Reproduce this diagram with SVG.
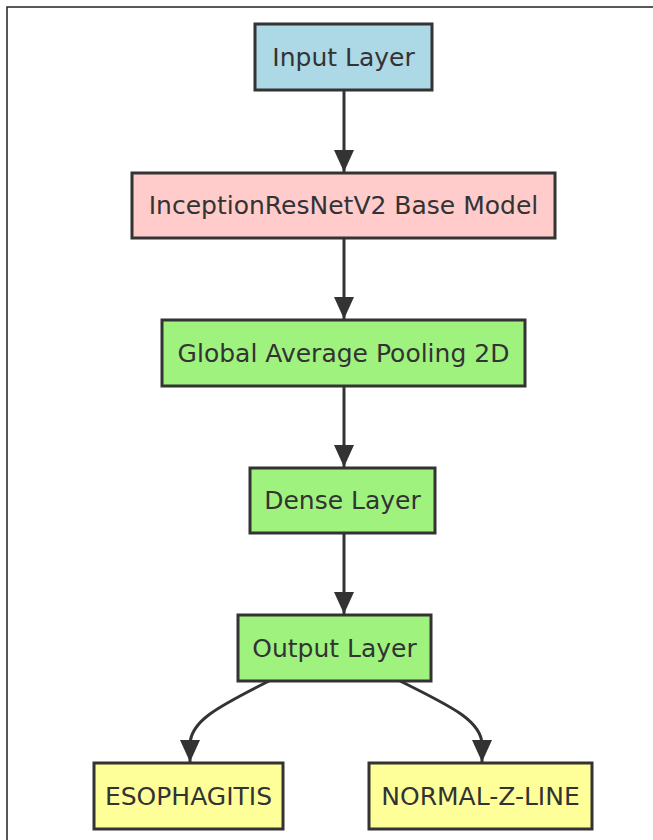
<svg xmlns="http://www.w3.org/2000/svg" width="653" height="840" viewBox="0 0 653 840">
<defs>
<style>
.n rect{stroke:#333;stroke-width:3}
.n text{font-family:"DejaVu Sans",Verdana,sans-serif;font-size:25px;fill:#333;text-anchor:middle;dominant-baseline:central}
.e{fill:none;stroke:#333;stroke-width:3}
</style>
<marker id="ah" viewBox="0 0 22 20" refX="22" refY="10" markerWidth="22" markerHeight="20" markerUnits="userSpaceOnUse" orient="auto">
<path d="M0,0 L22,10 L0,20 Z" fill="#333"/>
</marker>
</defs>
<rect x="0" y="0" width="653" height="840" fill="#fff"/>
<rect x="7" y="7" width="660" height="850" fill="none" stroke="#222" stroke-width="1.5"/>
<g id="connectors">
<path class="e" d="M344,90 L344,172" marker-end="url(#ah)"/>
<path class="e" d="M344,238 L344,319" marker-end="url(#ah)"/>
<path class="e" d="M344,386 L344,467" marker-end="url(#ah)"/>
<path class="e" d="M344,533 L344,614" marker-end="url(#ah)"/>
<path class="e" d="M269,681 C215,708 190,722 190,745 L190,762" marker-end="url(#ah)"/>
<path class="e" d="M400,681 C455,708 482,722 482,745 L482,762" marker-end="url(#ah)"/>
</g>
<g id="input" class="n"><rect x="255" y="24" width="177" height="66" fill="#add8e6"/><text x="343.5" y="57">Input Layer</text></g>
<g id="base" class="n"><rect x="132" y="173" width="423" height="65" fill="#ffcccb"/><text x="343.5" y="205.5">InceptionResNetV2 Base Model</text></g>
<g id="gap" class="n"><rect x="162" y="320" width="363" height="66" fill="#a0f27f"/><text x="343.5" y="353">Global Average Pooling 2D</text></g>
<g id="dense" class="n"><rect x="250" y="468" width="185" height="65" fill="#a0f27f"/><text x="342.5" y="500.5">Dense Layer</text></g>
<g id="output" class="n"><rect x="238" y="615" width="193" height="66" fill="#a0f27f"/><text x="334.5" y="648">Output Layer</text></g>
<g id="esophagitis" class="n"><rect x="94" y="763" width="189" height="66" fill="#ffff99"/><text x="188.5" y="796">ESOPHAGITIS</text></g>
<g id="normal" class="n"><rect x="369" y="763" width="223" height="66" fill="#ffff99"/><text x="480.5" y="796">NORMAL-Z-LINE</text></g>
</svg>
